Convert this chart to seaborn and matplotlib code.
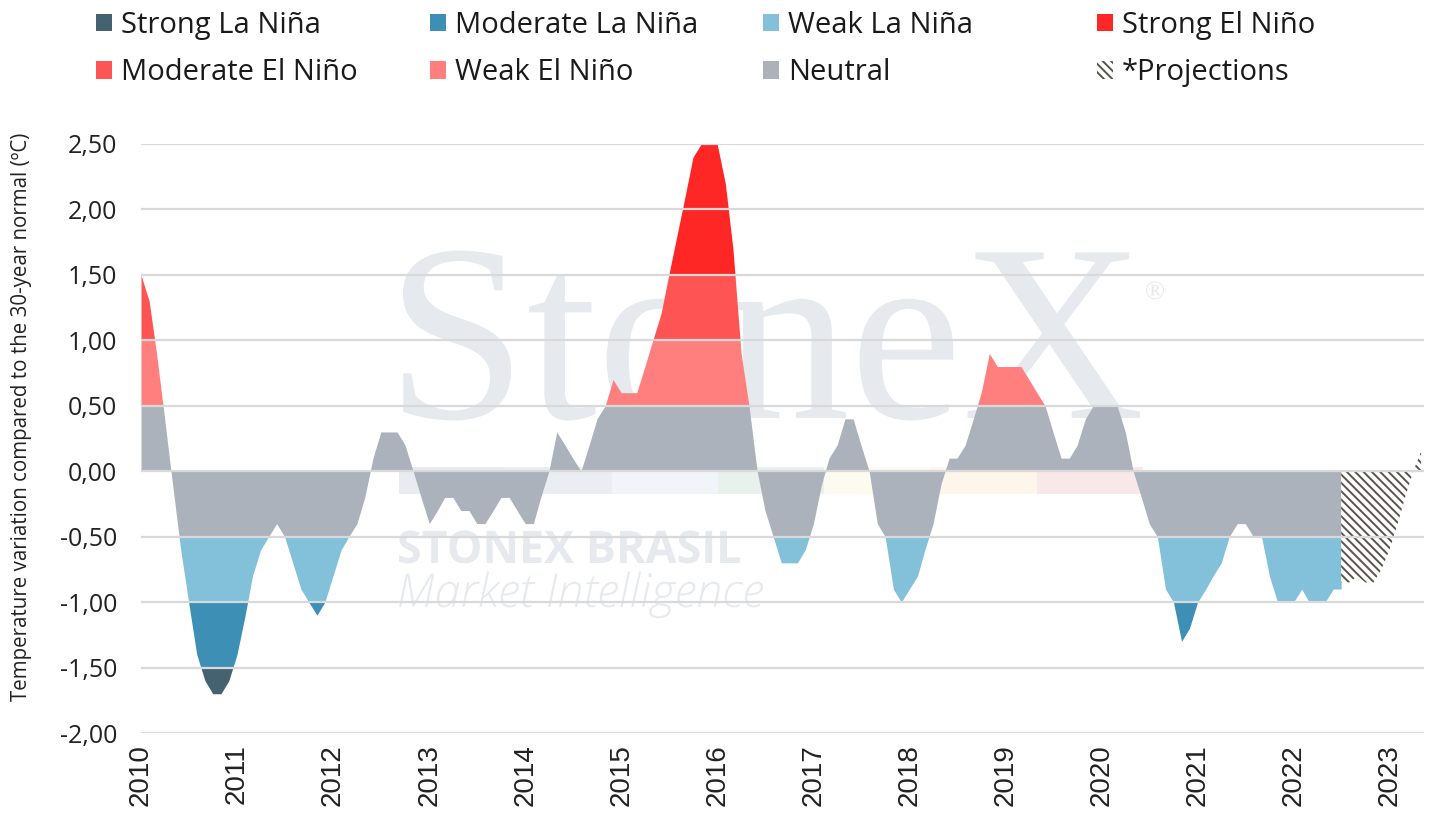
import numpy as np
import pandas as pd
import matplotlib
matplotlib.use("Agg")
import matplotlib.pyplot as plt
import matplotlib.dates as mdates
from matplotlib.patches import Rectangle, Patch, PathPatch
from matplotlib.textpath import TextPath
from matplotlib.font_manager import FontProperties
from matplotlib.transforms import Affine2D
from matplotlib.ticker import FuncFormatter
import seaborn as sns

# monthly anomaly (ºC), observed from Jan 2010 to Jul 2022
observed = [
    1.5, 1.3, 0.9, 0.4, -0.1, -0.6, -1.0, -1.4, -1.6, -1.7, -1.7, -1.6,      # 2010
    -1.4, -1.1, -0.8, -0.6, -0.5, -0.4, -0.5, -0.7, -0.9, -1.0, -1.1, -1.0,  # 2011
    -0.8, -0.6, -0.5, -0.4, -0.2, 0.1, 0.3, 0.3, 0.3, 0.2, 0.0, -0.2,        # 2012
    -0.4, -0.3, -0.2, -0.2, -0.3, -0.3, -0.4, -0.4, -0.3, -0.2, -0.2, -0.3,  # 2013
    -0.4, -0.4, -0.2, 0.0, 0.3, 0.2, 0.1, 0.0, 0.2, 0.4, 0.5, 0.7,           # 2014
    0.6, 0.6, 0.6, 0.8, 1.0, 1.2, 1.5, 1.8, 2.1, 2.4, 2.5, 2.6,              # 2015
    2.5, 2.2, 1.7, 0.9, 0.5, 0.0, -0.3, -0.5, -0.7, -0.7, -0.7, -0.6,        # 2016
    -0.4, -0.1, 0.1, 0.2, 0.4, 0.4, 0.2, 0.0, -0.4, -0.5, -0.9, -1.0,        # 2017
    -0.9, -0.8, -0.6, -0.4, -0.1, 0.1, 0.1, 0.2, 0.4, 0.6, 0.9, 0.8,         # 2018
    0.8, 0.8, 0.8, 0.7, 0.6, 0.5, 0.3, 0.1, 0.1, 0.2, 0.4, 0.5,              # 2019
    0.5, 0.5, 0.5, 0.3, 0.0, -0.2, -0.4, -0.5, -0.9, -1.0, -1.3, -1.2,       # 2020
    -1.0, -0.9, -0.8, -0.7, -0.5, -0.4, -0.4, -0.5, -0.5, -0.8, -1.0, -1.0,  # 2021
    -1.0, -0.9, -1.0, -1.0, -1.0, -0.9, -0.9,                                # 2022
]
# projections, Jul 2022 to May 2023
projection = [-0.85, -0.85, -0.8, -0.85, -0.85, -0.75, -0.6, -0.4, -0.2, 0.0, 0.15]

obs_dates = pd.date_range("2010-01-01", periods=len(observed), freq="MS")
proj_dates = pd.date_range("2022-07-01", periods=len(projection), freq="MS")

# classification bands
band_names = ["Strong La Niña", "Moderate La Niña", "Weak La Niña",
              "Strong El Niño", "Moderate El Niño", "Weak El Niño", "Neutral"]
band_low = [-9.0, -1.5, -1.0, 1.5, 1.0, 0.5, -0.5]
band_high = [-1.5, -1.0, -0.5, 9.0, 1.5, 1.0, 0.5]
band_colors = ["#44626f", "#3d8fb6", "#83c0da", "#ff2626", "#ff5454", "#ff7f7f", "#abb2bb"]
proj_label = "*Projections"
hatch_color = "#5a534d"

y_min, y_max = -2.0, 2.5
y_ticks = np.arange(-2.0, 2.51, 0.5)

sns.set_theme(style="white")
plt.rcParams["font.family"] = ["Open Sans", "DejaVu Sans"]
plt.rcParams["hatch.linewidth"] = 1.4
plt.rcParams["hatch.color"] = hatch_color

W, H = 1438, 827
fig = plt.figure(figsize=(W / 100, H / 100), dpi=100)
ax = fig.add_axes([141 / W, 1 - 733 / H, (1424 - 141) / W, (733 - 144) / H])

# pixel space (top-left origin) -> figure
px = Affine2D().scale(1, -1).translate(0, H).scale(1 / W, 1 / H) + fig.transFigure


def watermark(text, left, right, baseline, family, weight="normal", style="normal",
              color="#e6e9ee"):
    fp = FontProperties(family=family, weight=weight, style=style)
    tp = TextPath((0, 0), text, size=1, prop=fp)
    ext = tp.get_extents()
    s = (right - left) / ext.width
    tr = (Affine2D().translate(-ext.x0, 0).scale(s).translate(left, H - baseline)
          .scale(1 / W, 1 / H) + fig.transFigure)
    ax.add_patch(PathPatch(tp, transform=tr, facecolor=color, lw=0, zorder=0.5,
                           clip_on=False))


# StoneX watermark
strip = ["#e8ecf0", "#eaeef2", "#f1f5f9", "#e8f1ec", "#fdfaef", "#fef6ea", "#f8e8e8"]
seg = (1143 - 399) / len(strip)
for i, c in enumerate(strip):
    ax.add_patch(Rectangle((399 + i * seg, 467), seg, 27, transform=px, facecolor=c,
                           lw=0, zorder=0.4, clip_on=False))
watermark("StoneX", 403, 1140, 418, "Liberation Serif")
watermark("®", 1146, 1164, 299, "Liberation Serif")
watermark("STONEX BRASIL", 399, 740, 563, "Open Sans", weight="bold")
watermark("Market Intelligence", 399, 763, 607, "Open Sans", weight="light", style="italic")

# banded areas, each clipped to its band (and to the axis range)
x_num = mdates.date2num(obs_dates)
vals = np.array(observed)
for name, lo, hi, c in zip(band_names, band_low, band_high, band_colors):
    lo, hi = max(lo, y_min), min(hi, y_max)
    poly = ax.fill_between(obs_dates, 0, vals, color=c, lw=0, zorder=1)
    clip = Rectangle((x_num[0], lo), x_num[-1] - x_num[0], hi - lo,
                     transform=ax.transData)
    poly.set_clip_path(clip)

ax.fill_between(proj_dates, 0, projection, facecolor="white", edgecolor=hatch_color,
                hatch="\\\\\\\\", lw=0, zorder=1)

ax.set_xlim(pd.Timestamp("2010-01-01"), pd.Timestamp("2023-05-12"))
ax.set_ylim(y_min, y_max)
ax.set_yticks(y_ticks)
ax.yaxis.set_major_formatter(FuncFormatter(lambda v, p: f"{v:.2f}".replace(".", ",").replace("-0,00", "0,00")))
ax.xaxis.set_major_locator(mdates.YearLocator())
ax.xaxis.set_major_formatter(mdates.DateFormatter("%Y"))
ax.set_axisbelow(False)
ax.yaxis.grid(True, color="#d9d9d9", lw=1.6)
ax.xaxis.grid(False)
sns.despine(ax=ax, left=True, bottom=True)
ax.tick_params(axis="y", length=0, pad=17, labelsize=18, labelcolor="#222222")
ax.tick_params(axis="x", length=0, pad=8, labelsize=20, labelcolor="#222222")
for t in ax.get_xticklabels():
    t.set_rotation(90)
    t.set_family(["Liberation Sans", "DejaVu Sans"])

ax.set_ylabel("Temperature variation compared to the 30-year normal (ºC)",
              fontsize=14.8, color="#222222")
ax.yaxis.set_label_coords(-0.085, 0.536)

# legend: four columns of two entries
handles = [Patch(facecolor=c, lw=0) for c in band_colors]
handles.append(Patch(facecolor="white", edgecolor=hatch_color, hatch="\\\\\\\\", lw=0))
labels = band_names + [proj_label]
for i in range(4):
    fig.legend(handles=[handles[i], handles[i + 4]], labels=[labels[i], labels[i + 4]],
               loc="center left", bbox_to_anchor=((96 + 333.5 * i) / W, 1 - 49 / H),
               frameon=False, fontsize=21, handlelength=0.55, handleheight=0.55,
               handletextpad=0.32, labelspacing=0.62, borderpad=0, borderaxespad=0,
               labelcolor="#1a1a1a")

fig.savefig("out.png", dpi=100)
